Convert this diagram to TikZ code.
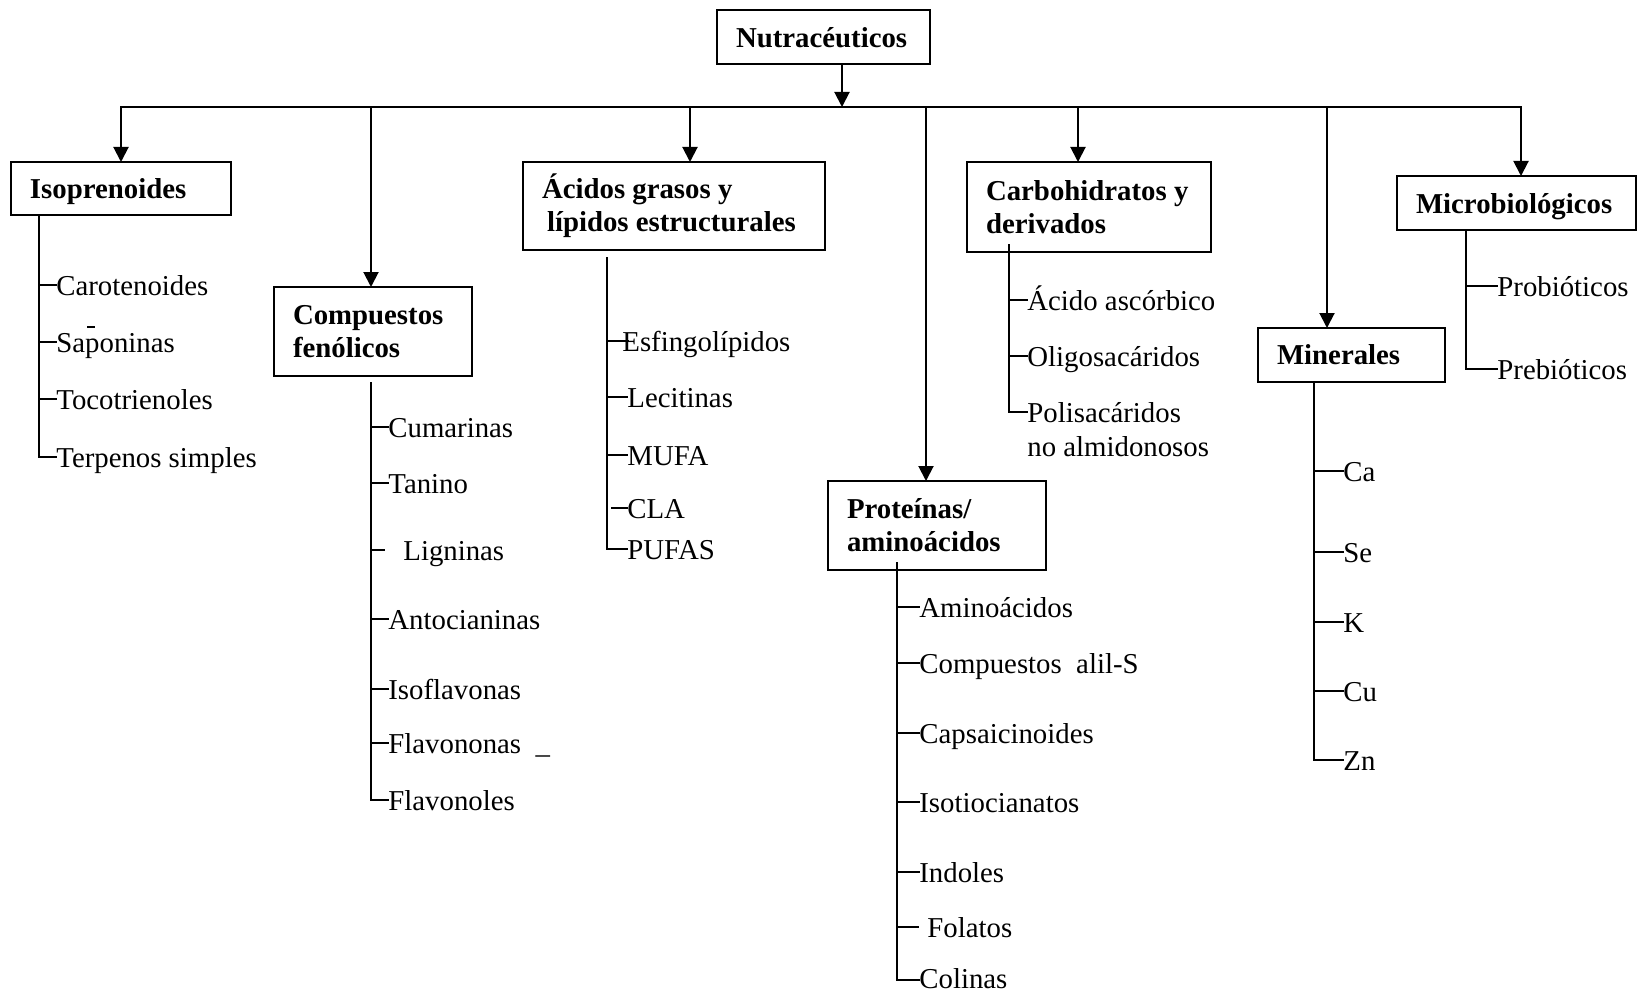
\documentclass[tikz,border=0pt]{standalone}
\usepackage{fontspec}
\setmainfont{Liberation Serif}
\usetikzlibrary{arrows.meta}
\begin{document}
\begin{tikzpicture}[x=0.5pt,y=-0.5pt,
  every node/.style={font=\fontsize{14.4pt}{16.5pt}\selectfont},
  con/.style={line width=1pt,line cap=rect},
  arr/.style={line width=1pt,-{Triangle[width=7.5pt,length=7.5pt]}},
  box/.style={draw,line width=1pt,font=\fontsize{14.4pt}{16.5pt}\selectfont\bfseries,
    align=flush left,inner xsep=9.5pt,inner ysep=1pt,anchor=north west,outer sep=0pt},
  onebox/.style={box,text depth=0pt},
  leaf/.style={anchor=west,inner xsep=0pt,inner ysep=0pt,text height=10pt,text depth=0pt},
]
\useasboundingbox (0,0) rectangle (1640,995);

% category boxes
\node[onebox, text width=87.5pt, minimum height=27pt] (nut) at (717,10) {Nutracéuticos};
\node[onebox, text width=91pt, minimum height=26.5pt] (iso) at (11,162) {Isoprenoides};
\node[box, text width=80pt, minimum height=44.5pt] (comp) at (274,287) {Compuestos\\fenólicos};
\node[box, text width=132pt, minimum height=44pt] (acid) at (523,162) {Ácidos grasos y\\\hspace*{2.5pt}lípidos estructurales};
\node[box, text width=90pt, minimum height=44.5pt] (prot) at (828,481) {Proteínas/\\aminoácidos};
\node[box, text width=103pt, minimum height=45pt] (carb) at (967,162) {Carbohidratos y\\derivados};
\node[onebox, text width=74.5pt, minimum height=27pt] (mine) at (1258,328) {Minerales};
\node[onebox, text width=100.5pt, minimum height=27pt] (micro) at (1397,176) {Microbiológicos};

% bus and arrows
\coordinate (bNut) at (842,107);
\coordinate (bIso) at (121,107);
\coordinate (bComp) at (371,107);
\coordinate (bAcid) at (690,107);
\coordinate (bProt) at (926,107);
\coordinate (bCarb) at (1078,107);
\coordinate (bMin) at (1327,107);
\coordinate (bMic) at (1521,107);
\draw[con] (bIso) -- (bMic);
\draw[arr] (nut.south -| bNut) -- (bNut);
\foreach \b/\n in {bIso/iso,bComp/comp,bAcid/acid,bProt/prot,bCarb/carb,bMin/mine,bMic/micro}
  \draw[arr] (\b) -- (\b |- \n.north);

% Isoprenoides
\coordinate (tIso) at (39,215);
\node[leaf] (carot) at (56,285) {Carotenoides};
\node[leaf] (sapon) at (56,342) {Saponinas};
\node[leaf] (toco) at (56,399) {Tocotrienoles};
\node[leaf] (terp) at (56,457) {Terpenos simples};
\draw[con] (tIso) |- (terp.west);
\foreach \n in {carot,sapon,toco} \draw[con] (tIso |- \n.west) -- (\n.west);
\draw[line width=1pt] (87,327) -- (95,327);

% Compuestos fenolicos
\coordinate (tComp) at (371,383);
\node[leaf] (cuma) at (388,427) {Cumarinas};
\node[leaf] (tani) at (388,483) {Tanino};
\node[leaf] (lign) at (403,550) {Ligninas};
\node[leaf] (anto) at (388,619) {Antocianinas};
\node[leaf] (isof) at (388,689) {Isoflavonas};
\node[leaf] (flvn) at (388,743) {Flavononas~~\_};
\node[leaf] (flvl) at (388,800) {Flavonoles};
\draw[con] (tComp) |- (flvl.west);
\foreach \n in {cuma,tani,anto,isof,flvn} \draw[con] (tComp |- \n.west) -- (\n.west);
\draw[con, shorten >=9.5pt] (tComp |- lign.west) -- (lign.west);

% Acidos grasos
\coordinate (tAcid) at (607,258);
\node[leaf] (esfi) at (622,341) {Esfingolípidos};
\node[leaf] (leci) at (627,397) {Lecitinas};
\node[leaf] (mufa) at (627,455) {MUFA};
\node[leaf] (cla) at (627,508) {CLA};
\node[leaf] (pufa) at (627,549) {PUFAS};
\draw[con] (tAcid) |- (pufa.west);
\foreach \n in {leci,mufa} \draw[con] (tAcid |- \n.west) -- (\n.west);
\draw[con, shorten >=-3pt] (tAcid |- esfi.west) -- (esfi.west);
\draw[con, shorten <=2.5pt] (tAcid |- cla.west) -- (cla.west);

% Proteinas
\coordinate (tProt) at (897,563);
\node[leaf] (amin) at (919,607) {Aminoácidos};
\node[leaf] (alil) at (919,663) {Compuestos~~alil-S};
\node[leaf] (caps) at (919,733) {Capsaicinoides};
\node[leaf] (isot) at (919,802) {Isotiocianatos};
\node[leaf] (indo) at (919,872) {Indoles};
\node[leaf] (fola) at (927,927) {Folatos};
\node[leaf, text height=8pt] (coli) at (919,980) {Colinas};
\draw[con] (tProt) |- (coli.west);
\foreach \n in {amin,alil,caps,isot,indo} \draw[con] (tProt |- \n.west) -- (\n.west);
\draw[con, shorten >=4.5pt] (tProt |- fola.west) -- (fola.west);

% Carbohidratos
\coordinate (tCarb) at (1009,245);
\node[leaf] (asco) at (1027,300) {Ácido ascórbico};
\node[leaf] (olig) at (1027,356) {Oligosacáridos};
\node[leaf] (poli) at (1027,412) {\renewcommand{\arraystretch}{1.06}\begin{tabular}[t]{@{}l@{}}Polisacáridos\\no almidonosos\end{tabular}};
\draw[con] (tCarb) |- (poli.west);
\foreach \n in {asco,olig} \draw[con] (tCarb |- \n.west) -- (\n.west);

% Minerales
\coordinate (tMin) at (1314,382);
\node[leaf] (ca) at (1343,471) {Ca};
\node[leaf] (se) at (1343,552) {Se};
\node[leaf] (k) at (1343,622) {K};
\node[leaf] (cu) at (1343,691) {Cu};
\node[leaf] (zn) at (1343,760) {Zn};
\draw[con] (tMin) |- (zn.west);
\foreach \n in {ca,se,k,cu} \draw[con] (tMin |- \n.west) -- (\n.west);

% Microbiologicos
\coordinate (tMic) at (1466,230);
\node[leaf] (probi) at (1497,286) {Probióticos};
\node[leaf] (prebi) at (1497,369) {Prebióticos};
\draw[con] (tMic) |- (prebi.west);
\draw[con] (tMic |- probi.west) -- (probi.west);
\end{tikzpicture}
\end{document}
